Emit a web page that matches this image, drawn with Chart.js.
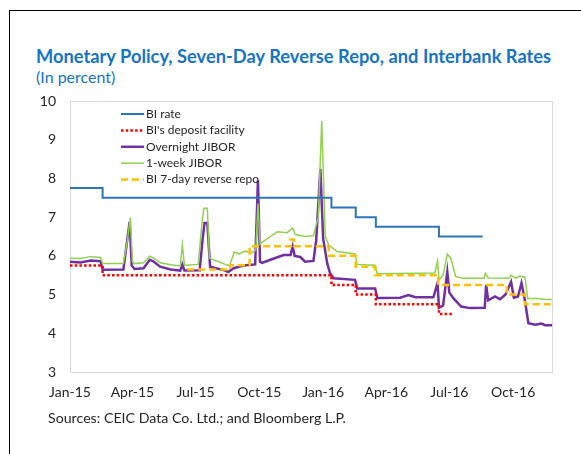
<!DOCTYPE html>
<html>
<head>
<meta charset="utf-8">
<script src="https://cdn.jsdelivr.net/npm/chart.js@4.4.1/dist/chart.umd.min.js"></script>
<style>
body { margin: 0; background: #fff; font-family: Lato, sans-serif; }
#wrap { position: relative; width: 581px; height: 454px; overflow: hidden; }
#frame { position: absolute; left: 9px; top: 10px; right: -5px; bottom: -5px; border-left: 1px solid #000; border-top: 1px solid #000; }
#title { position: absolute; left: 36px; top: 45px; font-weight: bold; font-size: 18.3px; color: #1874c1; white-space: nowrap; }
#sub { position: absolute; left: 36px; top: 67px; font-size: 16px; color: #1874c1; }
#src { position: absolute; left: 48px; top: 409px; font-size: 14.2px; color: #262626; white-space: nowrap; }
canvas { position: absolute; left: 0; top: 0; }
</style>
</head>
<body>
<div id="wrap">
  <div id="frame"></div>
  <div id="title">Monetary Policy, Seven-Day Reverse Repo, and Interbank Rates</div>
  <div id="sub">(In percent)</div>
  <canvas id="chart" width="581" height="454"></canvas>
  <div id="src">Sources: CEIC Data Co. Ltd.; and Bloomberg L.P.</div>
</div>
<script>
// x axis ticks (quarter starts)
const tickDates = ['2015-01-01', '2015-04-01', '2015-07-01', '2015-10-01', '2016-01-01', '2016-04-01', '2016-07-01', '2016-10-01'];
const tickLabels = ['Jan-15', 'Apr-15', 'Jul-15', 'Oct-15', 'Jan-16', 'Apr-16', 'Jul-16', 'Oct-16'];
const axisEnd = '2016-11-26';

// BI rate (step series)
const biRateDates = ['2015-01-01', '2015-02-17', '2016-01-13', '2016-02-17', '2016-03-17', '2016-06-16', '2016-08-18'];
const biRateValues = [7.75, 7.5, 7.25, 7.0, 6.75, 6.5, 6.5];

// BI's deposit facility (step series)
const depositDates = ['2015-01-01', '2015-02-17', '2016-01-13', '2016-02-17', '2016-03-17', '2016-06-16', '2016-07-07'];
const depositValues = [5.75, 5.5, 5.25, 5.0, 4.75, 4.5, 4.5];

// Overnight JIBOR
const onDates = [
  '2015-01-01', '2015-01-16', '2015-01-31', '2015-02-14', '2015-02-17', '2015-03-19', '2015-03-23', '2015-03-28', '2015-03-31', '2015-04-04',
  '2015-04-17', '2015-04-26', '2015-05-01', '2015-05-11', '2015-05-26', '2015-06-09', '2015-06-12', '2015-06-15', '2015-07-07', '2015-07-11',
  '2015-07-14', '2015-07-18', '2015-07-22', '2015-08-13', '2015-08-17', '2015-08-25', '2015-09-08', '2015-09-25', '2015-09-29', '2015-10-02',
  '2015-10-05', '2015-10-17', '2015-11-05', '2015-11-15', '2015-11-18', '2015-11-21', '2015-11-29', '2015-12-06', '2015-12-18', '2015-12-22',
  '2015-12-28', '2016-01-01', '2016-01-07', '2016-01-11', '2016-01-16', '2016-02-16', '2016-02-19', '2016-03-16', '2016-03-19', '2016-04-21',
  '2016-05-03', '2016-05-13', '2016-06-08', '2016-06-14', '2016-06-16', '2016-06-22', '2016-06-28', '2016-07-01', '2016-07-07', '2016-07-18',
  '2016-07-31', '2016-08-21', '2016-08-23', '2016-08-26', '2016-09-05', '2016-09-12', '2016-09-20', '2016-09-28', '2016-10-02', '2016-10-08',
  '2016-10-13', '2016-10-17', '2016-10-23', '2016-11-02', '2016-11-11', '2016-11-16', '2016-11-26'
];
const onValues = [
  5.85, 5.83, 5.88, 5.86, 5.64, 5.65, 6.2, 6.88, 5.75, 5.66,
  5.68, 5.9, 5.86, 5.72, 5.65, 5.62, 5.78, 5.62, 5.63, 6.4,
  6.85, 6.85, 5.72, 5.62, 5.58, 5.68, 5.75, 5.78, 7.95, 5.85,
  5.82, 5.9, 6.02, 6.02, 6.24, 6.0, 5.97, 5.85, 5.87, 6.4,
  8.25, 6.45, 5.8, 5.55, 5.42, 5.38, 5.16, 5.16, 4.91, 4.92,
  4.99, 4.93, 4.93, 5.3, 4.66, 4.72, 5.59, 5.05, 4.9, 4.69,
  4.65, 4.66, 5.25, 4.85, 4.95, 4.88, 5.0, 5.33, 4.92, 4.95,
  5.3, 4.95, 4.26, 4.22, 4.25, 4.21, 4.21
];

// 1-week JIBOR
const wkDates = [
  '2015-01-01', '2015-01-16', '2015-01-31', '2015-02-14', '2015-02-17', '2015-03-19', '2015-03-24', '2015-03-29', '2015-04-01', '2015-04-04',
  '2015-04-17', '2015-04-26', '2015-05-01', '2015-05-11', '2015-05-26', '2015-06-09', '2015-06-12', '2015-06-15', '2015-07-05', '2015-07-10',
  '2015-07-13', '2015-07-18', '2015-07-21', '2015-08-13', '2015-08-19', '2015-08-26', '2015-09-02', '2015-09-10', '2015-09-20', '2015-09-26',
  '2015-09-29', '2015-10-02', '2015-10-05', '2015-10-17', '2015-10-27', '2015-11-10', '2015-11-18', '2015-11-22', '2015-12-06', '2015-12-18',
  '2015-12-25', '2015-12-30', '2016-01-04', '2016-01-09', '2016-01-21', '2016-02-16', '2016-02-19', '2016-03-16', '2016-03-19', '2016-06-10',
  '2016-06-14', '2016-06-16', '2016-06-22', '2016-06-28', '2016-07-03', '2016-07-10', '2016-07-20', '2016-08-20', '2016-08-22', '2016-08-26',
  '2016-09-25', '2016-09-28', '2016-10-05', '2016-10-10', '2016-10-18', '2016-10-22', '2016-11-05', '2016-11-15', '2016-11-26'
];
const wkValues = [
  5.94, 5.93, 5.98, 5.96, 5.8, 5.8, 6.3, 6.99, 5.85, 5.8,
  5.82, 5.99, 5.95, 5.82, 5.77, 5.74, 6.28, 5.76, 5.78, 6.8,
  7.23, 7.23, 5.94, 5.78, 5.75, 6.1, 6.05, 6.12, 6.08, 6.15,
  7.35, 6.3, 6.35, 6.5, 6.62, 6.6, 6.72, 6.55, 6.5, 6.52,
  7.0, 9.49, 6.51, 6.28, 6.11, 6.05, 5.78, 5.76, 5.54, 5.56,
  5.87, 5.38, 5.5, 6.05, 5.94, 5.47, 5.42, 5.42, 5.55, 5.43,
  5.42, 5.5, 5.42, 5.48, 5.45, 4.9, 4.9, 4.88, 4.87
];

// BI 7-day reverse repo (step series)
const rrDates = ['2015-06-19', '2015-08-20', '2015-09-17', '2015-11-15', '2015-11-20', '2016-01-09', '2016-02-17', '2016-03-16', '2016-06-15', '2016-09-22', '2016-10-18', '2016-11-26'];
const rrValues = [5.65, 5.76, 6.25, 6.42, 6.25, 6.0, 5.72, 5.5, 5.25, 5.0, 4.75, 4.75];

const toDay = s => {
    const [y, m, d] = s.split('-').map(Number);
    return (Date.UTC(y, m - 1, d) - Date.UTC(2015, 0, 1)) / 86400000;
};
const toPoints = (dates, values) => dates.map((d, i) => ({ x: toDay(d), y: values[i] }));

const textColor = '#262626';

// light grey box round the plot area
const plotFrame = {
    id: 'plotFrame',
    beforeDatasetsDraw(chart) {
        const { ctx, chartArea: a } = chart;
        ctx.save();
        ctx.strokeStyle = '#d9d9d9';
        ctx.lineWidth = 1;
        ctx.strokeRect(a.left + 0.5, a.top + 0.5, a.right - a.left, a.bottom - a.top);
        ctx.restore();
    }
};

// legend sits inside the plot, top left
const insideLegend = {
    id: 'insideLegend',
    afterDraw(chart) {
        const { ctx, chartArea: a } = chart;
        ctx.save();
        ctx.font = '12px Lato';
        ctx.textBaseline = 'middle';
        chart.data.datasets.forEach((ds, i) => {
            const y = a.top + 13 + i * 16.4;
            const x = a.left + 51;
            ctx.beginPath();
            ctx.strokeStyle = ds.borderColor;
            ctx.lineWidth = ds.borderWidth;
            ctx.setLineDash(ds.borderDash || []);
            ctx.moveTo(x, y);
            ctx.lineTo(x + 23, y);
            ctx.stroke();
            ctx.setLineDash([]);
            ctx.fillStyle = textColor;
            ctx.fillText(ds.label, x + 25, y);
        });
        ctx.restore();
    }
};

const ctx = document.getElementById('chart').getContext('2d');
new Chart(ctx, {
    type: 'line',
    data: {
        datasets: [
            {
                label: 'BI rate',
                data: toPoints(biRateDates, biRateValues),
                borderColor: '#2e75b6',
                borderWidth: 2,
                stepped: true,
                order: 2
            },
            {
                label: "BI's deposit facility",
                data: toPoints(depositDates, depositValues),
                borderColor: '#ff0000',
                borderWidth: 2.5,
                borderDash: [2.5, 2.2],
                stepped: true,
                order: 1
            },
            {
                label: 'Overnight JIBOR',
                data: toPoints(onDates, onValues),
                borderColor: '#7030a0',
                borderWidth: 2.5,
                order: 4
            },
            {
                label: '1-week JIBOR',
                data: toPoints(wkDates, wkValues),
                borderColor: '#92d050',
                borderWidth: 1.5,
                order: 3
            },
            {
                label: 'BI 7-day reverse repo',
                data: toPoints(rrDates, rrValues),
                borderColor: '#ffc000',
                borderWidth: 2.5,
                borderDash: [7, 4],
                stepped: true,
                order: 0
            }
        ]
    },
    options: {
        responsive: false,
        animation: false,
        events: [],
        layout: { padding: { top: 101, right: 29, left: 0, bottom: 0 } },
        elements: { point: { radius: 0 }, line: { tension: 0, fill: false } },
        scales: {
            x: {
                type: 'linear',
                min: 0,
                max: toDay(axisEnd),
                grid: { display: false, drawTicks: false },
                border: { display: false },
                afterFit: scale => { scale.height = 82; },
                afterBuildTicks: scale => {
                    scale.ticks = tickDates.map(d => ({ value: toDay(d) }));
                },
                ticks: {
                    padding: 12,
                    maxRotation: 0,
                    autoSkip: false,
                    color: textColor,
                    font: { family: 'Lato', size: 14 },
                    callback: (value, index) => tickLabels[index]
                }
            },
            y: {
                min: 3,
                max: 10,
                grid: { display: false, drawTicks: false },
                border: { display: false },
                afterFit: scale => { scale.width = 70; },
                ticks: {
                    stepSize: 1,
                    padding: 14,
                    color: textColor,
                    font: { family: 'Lato', size: 14 }
                }
            }
        },
        plugins: {
            legend: { display: false },
            tooltip: { enabled: false }
        }
    },
    plugins: [plotFrame, insideLegend]
});
</script>
</body>
</html>
